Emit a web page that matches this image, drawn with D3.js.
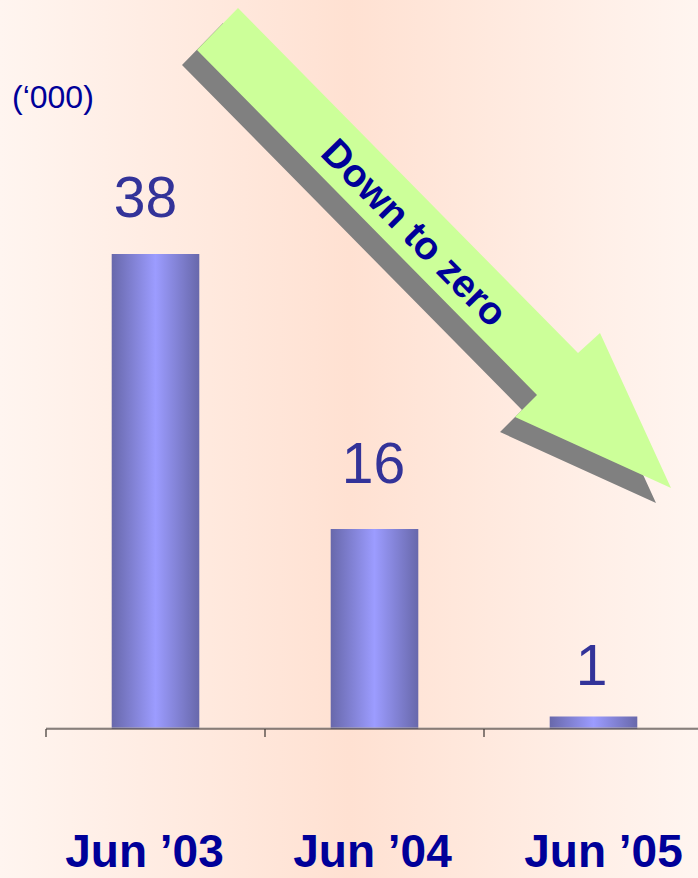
<!DOCTYPE html>
<html>
<head>
<meta charset="utf-8">
<script src="https://cdn.jsdelivr.net/npm/d3@7"></script>
<style>
  html, body { margin: 0; padding: 0; }
  svg { display: block; }
</style>
</head>
<body>
<div id="chart"></div>
<script>
// Data
var categories = ["Jun \u201903", "Jun \u201904", "Jun \u201905"];
var values = [38, 16, 1];
var valueLabels = ["38", "16", "1"];
var unitLabel = "(\u2018000)";
var arrowLabel = "Down to zero";

var svgWidth = 698;
var svgHeight = 878;

var svg = d3.select("#chart")
            .append("svg")
            .attr("width", svgWidth)
            .attr("height", svgHeight);

var defs = svg.append("defs");

// Background: peach in the middle, paler at the edges
var bg = defs.append("linearGradient").attr("id", "bg")
    .attr("x1", "0%").attr("x2", "100%").attr("y1", "0%").attr("y2", "0%");
bg.append("stop").attr("offset", "0%").attr("stop-color", "#fff5f0");
bg.append("stop").attr("offset", "50%").attr("stop-color", "#ffe1d2");
bg.append("stop").attr("offset", "100%").attr("stop-color", "#fff5f0");

// Bars: darker edges, light centre
var barGrad = defs.append("linearGradient").attr("id", "barGrad")
    .attr("x1", "0%").attr("x2", "100%").attr("y1", "0%").attr("y2", "0%");
barGrad.append("stop").attr("offset", "0%").attr("stop-color", "#6868ab");
barGrad.append("stop").attr("offset", "50%").attr("stop-color", "#9c9cff");
barGrad.append("stop").attr("offset", "100%").attr("stop-color", "#6868ab");

svg.append("rect")
   .attr("width", svgWidth)
   .attr("height", svgHeight)
   .attr("fill", "url(#bg)");

// Scales
var x = d3.scaleBand()
    .domain(categories)
    .range([46, 703])
    .paddingInner(0.6)
    .paddingOuter(0.3);

var y = d3.scaleLinear()
    .domain([0, 40])
    .range([729, 229]);

// Bars
svg.selectAll("rect.bar")
   .data(values)
   .enter()
   .append("rect")
   .attr("class", "bar")
   .attr("x", (d, i) => x(categories[i]))
   .attr("width", x.bandwidth())
   .attr("y", d => y(d))
   .attr("height", d => y(0) - y(d))
   .attr("fill", "url(#barGrad)");

// Value labels (gap above each bar as in the original)
var labelGap = [37, 46, 32];
svg.selectAll("text.value")
   .data(values)
   .enter()
   .append("text")
   .attr("class", "value")
   .attr("x", (d, i) => x(categories[i]) + x.bandwidth() / 2 - [10, 1, 2][i])
   .attr("y", (d, i) => y(d) - labelGap[i])
   .attr("text-anchor", "middle")
   .attr("font-family", "Liberation Sans, Arial, sans-serif")
   .attr("font-size", 57)
   .attr("fill", "#333399")
   .text((d, i) => valueLabels[i]);

// Axis line and tick marks at band boundaries
var axisY = y(0);
svg.append("line")
   .attr("x1", x.range()[0]).attr("x2", svgWidth)
   .attr("y1", axisY - 1).attr("y2", axisY - 1)
   .attr("stroke", "#b0a8a4").attr("stroke-width", 1);
svg.append("line")
   .attr("x1", x.range()[0]).attr("x2", svgWidth)
   .attr("y1", axisY).attr("y2", axisY)
   .attr("stroke", "#3a3330").attr("stroke-width", 1.2);

var tickXs = categories.map(c => x(c) - x.step() * x.paddingOuter());
svg.selectAll("line.tick")
   .data(tickXs)
   .enter()
   .append("line")
   .attr("class", "tick")
   .attr("x1", d => d).attr("x2", d => d)
   .attr("y1", axisY).attr("y2", axisY + 8)
   .attr("stroke", "#3a3330").attr("stroke-width", 1.2);

// Category labels
svg.selectAll("text.cat")
   .data(categories)
   .enter()
   .append("text")
   .attr("class", "cat")
   .attr("x", (d, i) => x(d) + x.bandwidth() / 2 - [11, 2, -10][i])
   .attr("y", 867)
   .attr("text-anchor", "middle")
   .attr("font-family", "Liberation Sans, Arial, sans-serif")
   .attr("font-weight", "bold")
   .attr("font-size", 46)
   .attr("fill", "#000099")
   .text(d => d);

// Units label
svg.append("text")
   .attr("x", 12)
   .attr("y", 108)
   .attr("font-family", "Liberation Sans, Arial, sans-serif")
   .attr("font-size", 32)
   .attr("fill", "#000099")
   .text(unitLabel);

// Annotation arrow with drop shadow
var arrowPts = [[238, 8], [578, 353], [600, 333], [671, 488], [515, 417], [537, 395], [197, 50]];
var line = d3.line();

svg.append("path")
   .attr("d", line(arrowPts) + "Z")
   .attr("transform", "translate(-15, 15)")
   .attr("fill", "#808080");

svg.append("path")
   .attr("d", line(arrowPts) + "Z")
   .attr("fill", "#ccff99");

svg.append("text")
   .attr("transform", "translate(415, 232) rotate(45.4)")
   .attr("text-anchor", "middle")
   .attr("dy", "0.36em")
   .attr("font-family", "Liberation Sans, Arial, sans-serif")
   .attr("font-weight", "bold")
   .attr("font-size", 39)
   .attr("fill", "#000099")
   .text(arrowLabel);
</script>
</body>
</html>
